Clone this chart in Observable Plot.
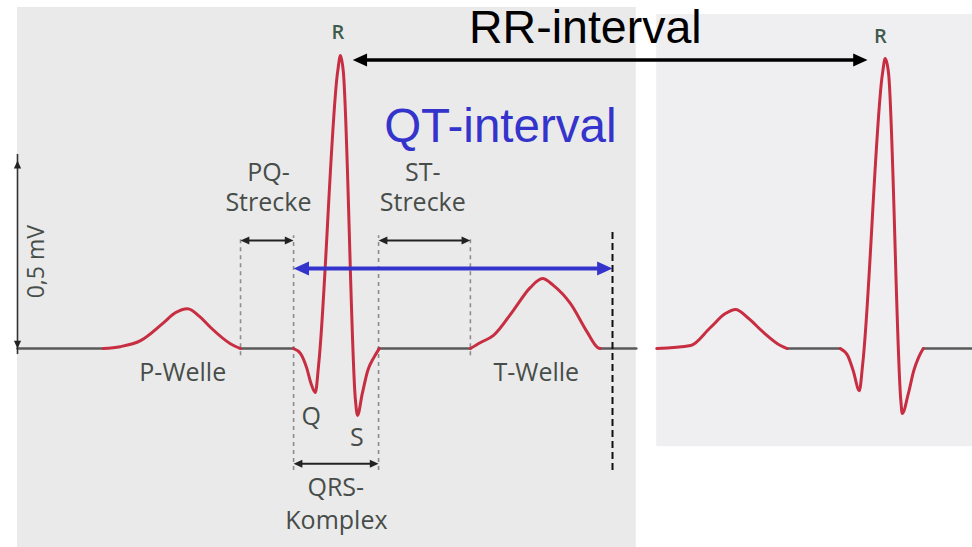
<!DOCTYPE html>
<html><head><meta charset="utf-8">
<script src="https://cdn.jsdelivr.net/npm/d3@7"></script>
<script src="https://cdn.jsdelivr.net/npm/@observablehq/plot@0.6"></script>
<style>html,body{margin:0;padding:0;background:#fff;}</style>
</head><body><div id="chart"></div>
<script>
// time in ms (x), voltage in mV (y)
const panelLeft = [{t1: 25, t2: 935, v1: -0.529, v2: 0.907}];
const panelRight = [{t1: 965, t2: 1430, v1: -0.261, v2: 0.888}];

// isoelectric (baseline) stretches
const baselineSegments = [
  [[25, 0], [151, 0]],
  [[353, 0], [431, 0]],
  [[556, 0], [691, 0]],
  [[882, 0], [935, 0]],
  [[1157, 0], [1235, 0]],
  [[1357, 0], [1430, 0]]
];

// beat 1 (left panel)
const pWave1 = [[151,0],[176,0.005],[206,0.021],[240,0.069],[257,0.095],[275,0.106],[293,0.085],[309,0.056],[338,0.013],[353,0]];
const qrs1 = [[431,0],[441,-0.013],[450,-0.05],[457,-0.095],[463,-0.117],[468,-0.04],[496,0.739],[500,0.779],[504,0.739],[522,-0.138],[525,-0.178],[532,-0.12],[540,-0.059],[549,-0.024],[557,0]];
const tWave1 = [[691,0],[706,0.016],[725,0.035],[754,0.101],[779,0.162],[797,0.186],[813,0.168],[838,0.12],[863,0.043],[878,0.003],[882,0]];

// beat 2 (right panel)
const pWave2 = [[965,0],[1015,0.008],[1044,0.056],[1066,0.093],[1081,0.104],[1099,0.082],[1122,0.043],[1147,0.008],[1157,0]];
const qrs2 = [[1235,0],[1246,-0.019],[1254,-0.059],[1263,-0.112],[1268,-0.04],[1297,0.731],[1301,0.771],[1306,0.731],[1324,-0.138],[1326,-0.173],[1335,-0.12],[1343,-0.059],[1350,-0.024],[1357,0]];

// interval boundaries and annotations
const guideLines = [
  {t: 353, v1: -0.019, v2: 0.30},
  {t: 431, v1: -0.324, v2: 0.30},
  {t: 556, v1: -0.324, v2: 0.30},
  {t: 691, v1: -0.019, v2: 0.30}
];
const segmentArrows = [
  {name: "PQ", t1: 353, t2: 431, v: 0.287},
  {name: "ST", t1: 556, t2: 691, v: 0.287},
  {name: "QRS", t1: 431, t2: 556, v: -0.306}
];
const qtInterval = [{t1: 431, t2: 900, v: 0.213}];
const tEndLine = [{t: 900, v1: -0.324, v2: 0.319}];
const rrInterval = [{t1: 518, t2: 1275, v: 0.767}];
const scaleBar = [{t: 25, v1: 0, v2: 0.5}];

const peakLabels = [{text: "R", t: 496, v: 0.84}, {text: "R", t: 1294, v: 0.829}];
const waveLabels = [
  {text: "P-Welle", t: 268, v: -0.066},
  {text: "T-Welle", t: 788, v: -0.064},
  {text: "Q", t: 457, v: -0.181},
  {text: "S", t: 524, v: -0.237},
  {text: "PQ-", t: 394, v: 0.468},
  {text: "Strecke", t: 394, v: 0.386},
  {text: "ST-", t: 621, v: 0.468},
  {text: "Strecke", t: 621, v: 0.386},
  {text: "QRS-", t: 493, v: -0.370},
  {text: "Komplex", t: 494, v: -0.459}
];
const scaleLabel = [{text: "0,5 mV", t: 53, v: 0.231}];
const rrLabel = [{text: "RR-interval", t: 860, v: 0.851}];
const qtLabel = [{text: "QT-interval", t: 735, v: 0.589}];

// tables for the library
const baselineTable = baselineSegments.flatMap((pts, i) => pts.map(([t, v]) => ({t, v, seg: i})));
const waveTable = [pWave1, qrs1, tWave1, pWave2, qrs2].flatMap((pts, i) => pts.map(([t, v]) => ({t, v, seg: i})));

// filled arrowhead symbols (tip at the anchor point)
function head(dx, dy) {
  return {draw(ctx, size) {
    const r = Math.sqrt(size / Math.PI), L = 2.2 * r;
    const px = -dy, py = dx;
    ctx.moveTo(0, 0);
    ctx.lineTo(-dx * L + px * r, -dy * L + py * r);
    ctx.lineTo(-dx * L - px * r, -dy * L - py * r);
    ctx.closePath();
  }};
}
const headRight = head(1, 0), headLeft = head(-1, 0), headUp = head(0, -1), headDown = head(0, 1);

const labelFont = "'Open Sans', 'Noto Sans', sans-serif";
const bigFont = "'Liberation Sans', Arial, Helvetica, sans-serif";

const chart = Plot.plot({
  width: 972,
  height: 547,
  margin: 0,
  x: {domain: [0, 1429.4], axis: null},
  y: {domain: [-0.529, 0.9255], axis: null},
  style: {background: "white", overflow: "visible"},
  marks: [
    Plot.rect(panelLeft, {x1: "t1", x2: "t2", y1: "v1", y2: "v2", fill: "#eaeaea"}),
    Plot.rect(panelRight, {x1: "t1", x2: "t2", y1: "v1", y2: "v2", fill: "#efeff1"}),
    // interval guides
    Plot.ruleX(guideLines, {x: "t", y1: "v1", y2: "v2", stroke: "#8c8c8c", strokeWidth: 1.6, strokeDasharray: "4,4"}),
    // ECG trace
    Plot.line(baselineTable, {x: "t", y: "v", z: "seg", stroke: "#5a5a5a", strokeWidth: 2.6}),
    Plot.line(waveTable, {x: "t", y: "v", z: "seg", stroke: "#c72e42", strokeWidth: 3, curve: "monotone-x"}),
    // T end line
    Plot.ruleX(tEndLine, {x: "t", y1: "v1", y2: "v2", stroke: "#111", strokeWidth: 2, strokeDasharray: "7,4"}),
    // segment arrows
    Plot.ruleY(segmentArrows, {y: "v", x1: "t1", x2: "t2", stroke: "#222", strokeWidth: 2, insetLeft: 6, insetRight: 6}),
    Plot.dot(segmentArrows, {x: "t1", y: "v", symbol: headLeft, r: 4, fill: "#222", stroke: "none"}),
    Plot.dot(segmentArrows, {x: "t2", y: "v", symbol: headRight, r: 4, fill: "#222", stroke: "none"}),
    // scale bar
    Plot.ruleX(scaleBar, {x: "t", y1: "v1", y2: "v2", stroke: "#333", strokeWidth: 1.6, insetTop: 6, insetBottom: 6}),
    Plot.dot(scaleBar, {x: "t", y: "v2", symbol: headUp, r: 3.6, fill: "#222", stroke: "none"}),
    Plot.dot(scaleBar, {x: "t", y: "v1", symbol: headDown, r: 3.6, fill: "#222", stroke: "none"}),
    // QT interval arrow
    Plot.ruleY(qtInterval, {y: "v", x1: "t1", x2: "t2", stroke: "#3434cc", strokeWidth: 4, insetLeft: 12, insetRight: 12}),
    Plot.dot(qtInterval, {x: "t1", y: "v", symbol: headLeft, r: 7, fill: "#3434cc", stroke: "none"}),
    Plot.dot(qtInterval, {x: "t2", y: "v", symbol: headRight, r: 7, fill: "#3434cc", stroke: "none"}),
    // RR interval arrow
    Plot.ruleY(rrInterval, {y: "v", x1: "t1", x2: "t2", stroke: "#000", strokeWidth: 3.5, insetLeft: 12, insetRight: 12}),
    Plot.dot(rrInterval, {x: "t1", y: "v", symbol: headLeft, r: 6.5, fill: "#000", stroke: "none"}),
    Plot.dot(rrInterval, {x: "t2", y: "v", symbol: headRight, r: 6.5, fill: "#000", stroke: "none"}),
    // labels
    Plot.text(peakLabels, {x: "t", y: "v", text: "text", fontSize: 20, fontFamily: labelFont, fontWeight: 600, fill: "#3f5a4c"}),
    Plot.text(waveLabels, {x: "t", y: "v", text: "text", fontSize: 25, fontFamily: labelFont, fill: "#474d49"}),
    Plot.text(scaleLabel, {x: "t", y: "v", text: "text", fontSize: 23, fontFamily: labelFont, fill: "#474d49", rotate: -90}),
    Plot.text(rrLabel, {x: "t", y: "v", text: "text", fontSize: 46.5, fontFamily: bigFont, fill: "#000"}),
    Plot.text(qtLabel, {x: "t", y: "v", text: "text", fontSize: 47.5, fontFamily: bigFont, fill: "#3434cc"})
  ]
});
document.getElementById("chart").append(chart);
</script>
</body></html>
